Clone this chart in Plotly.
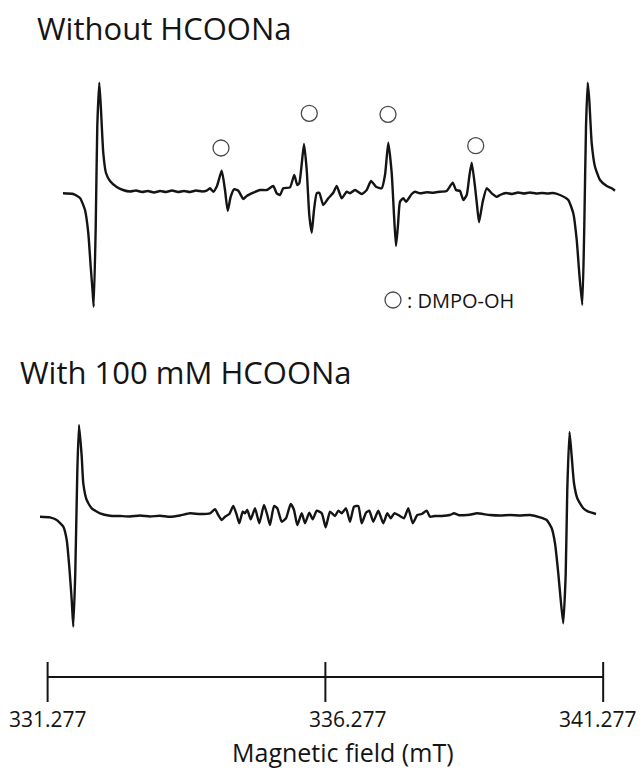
import plotly.graph_objects as go

# ---- Spectrum without formate: magnetic field (mT) and signal (a.u.) ----
field_without = [
    331.554, 331.739, 331.860, 331.950, 332.009, 332.053, 332.089, 332.107, 332.143, 332.171,
    332.207, 332.238, 332.279, 332.328, 332.400, 332.521, 332.634, 332.760, 332.868, 332.976,
    333.084, 333.192, 333.300, 333.408, 333.516, 333.624, 333.732, 333.840, 333.948, 334.056,
    334.141, 334.200, 334.259, 334.326, 334.411, 334.470, 334.519, 334.573, 334.632, 334.709,
    334.799, 334.861, 334.979, 335.100, 335.221, 335.339, 335.401, 335.460, 335.519, 335.640,
    335.717, 335.771, 335.807, 335.892, 335.941, 335.987, 336.031, 336.072, 336.121, 336.167,
    336.239, 336.329, 336.419, 336.481, 336.571, 336.661, 336.720, 336.810, 336.931, 337.021,
    337.098, 337.188, 337.291, 337.350, 337.409, 337.471, 337.512, 337.548, 337.584, 337.620,
    337.679, 337.728, 337.831, 337.890, 337.980, 338.101, 338.219, 338.340, 338.461, 338.569,
    338.628, 338.700, 338.759, 338.821, 338.871, 338.911, 338.970, 339.006, 339.042, 339.109,
    339.181, 339.271, 339.361, 339.420, 339.528, 339.636, 339.744, 339.852, 339.960, 340.068,
    340.176, 340.284, 340.374, 340.500, 340.649, 340.739, 340.801, 340.847, 340.901, 340.937,
    340.968, 340.999, 341.027, 341.071, 341.130, 341.220, 341.341, 341.431, 341.490,
]
signal_without = [
    -2.3, -3, -7, -19, -42, -76, -102, -115.7, -35.7, 64.3,
    108.3, 81, 38, 18, 10, 4, 1, -0.5, 0.5, -1,
    0, -1.5, 0, -1, 0.5, -1, 0, -1, 0.5, -0.5,
    0.3, 2.7, -0.7, 5, 20.3, 1, -19.7, -5.7, 1.7, 0.3,
    -8, -5, -1.7, 1, 1, 5, -2.3, -4, 2.7, 3.7,
    16, 6, 7.7, 47, 21, -24, -41.7, -19, -2.3, -1.7,
    -14, -7.3, -1.7, 5, -7.3, -0.7, -2.3, 1, -3, 1,
    10, 4.3, 2.7, 16, 48.3, 17.7, -24, -55, -34, -10.7,
    -7.3, -10.7, -3, -0.7, -2.3, -1.3, -1.7, -0.7, 0, 8.3,
    1, 0, -9, -4, 16, 28.3, 4.3, -14, -31.3, -10.7,
    2.7, -2.3, -5.7, -4, -2, -3, -1.5, -2.5, -1.5, -2.5,
    -2, -2.5, -2, -4, -9, -22.3, -49, -82.3, -114, -35.7,
    64.3, 108.3, 91, 47.7, 24.3, 11, 5, 2.7, 0.3,
]

# ---- Spectrum with 100 mM HCOONa ----
field_with = [
    331.140, 331.320, 331.441, 331.559, 331.621, 331.667, 331.711, 331.739, 331.775, 331.811,
    331.842, 331.891, 331.919, 331.981, 332.071, 332.220, 332.400, 332.580, 332.760, 332.940,
    333.120, 333.300, 333.480, 333.660, 333.840, 334.020, 334.200, 334.290, 334.349, 334.411,
    334.470, 334.547, 334.619, 334.681, 334.727, 334.789, 334.830, 334.871, 334.933, 335.010,
    335.087, 335.172, 335.231, 335.280, 335.352, 335.411, 335.491, 335.568, 335.653, 335.712,
    335.771, 335.851, 335.910, 335.987, 336.049, 336.121, 336.211, 336.283, 336.360, 336.450,
    336.509, 336.571, 336.648, 336.720, 336.792, 336.869, 336.931, 337.008, 337.067, 337.139,
    337.229, 337.319, 337.391, 337.453, 337.517, 337.589, 337.692, 337.769, 337.849, 337.931,
    338.011, 338.101, 338.160, 338.250, 338.371, 338.520, 338.592, 338.669, 338.821, 338.939,
    339.001, 339.240, 339.420, 339.600, 339.780, 339.960, 340.140, 340.261, 340.351, 340.410,
    340.469, 340.513, 340.559, 340.603, 340.631, 340.671, 340.711, 340.752, 340.811, 340.919,
    341.009, 341.071, 341.148,
]
signal_with = [
    -0.7, -1.3, -4, -10.7, -24, -50.7, -84, -110.7, -57, 43,
    91, 59.3, 32.7, 16, 7.7, 2.7, 0.3, 0, -0.5, 0.5,
    -0.5, 0.3, -0.8, 0.5, 2.7, 2, 2.7, 6.7, 1, -4,
    -0.7, 2, 10, 1, -7.3, 4.3, 2.7, 6, -3.3, 7.7,
    -7.3, 11, 1, -9, 10, 7.7, -5.7, -2.3, 12, 6,
    -9, 2.7, -7.3, 3.3, -3.3, 5.3, 2.7, -11.3, 4.3, 0,
    5.3, 2.7, 7.7, -5.7, 9.3, 10, -7.3, 3.3, 5.3, -5.7,
    5.3, -7.3, 2.7, -2.3, 2.7, 1, -2.3, 7.7, -7.3, 1,
    2, 5.3, -0.7, 0, 0, 1, 2.7, 1, 1, 2,
    2.7, 1, 0.5, 1, 0.5, 1, -1.3, -4, -12.3, -27.3,
    -57.3, -84, -107.3, -57.3, 26, 84, 59.3, 32.7, 17.7, 7.7,
    4.3, 3.3, 2,
]

# ---- DMPO-OH quartet markers (field, height above the trace) ----
dmpo_field = [334.398, 335.987, 337.404, 338.983]
dmpo_height = [43, 77.7, 76.7, 45.3]

# ---- Field scale bar ----
scale_ticks = [331.277, 336.277, 341.277]
scale_labels = ["331.277", "336.277", "341.277"]

FONT = "Open Sans, Noto Sans, sans-serif"
INK = "#141414"
W, H = 644, 768

trace_line = dict(color=INK, width=2.4, shape="spline", smoothing=0.5)
circle_marker = dict(symbol="circle-open", size=16, color="#4a4a4a", line=dict(width=1.3))

fig = go.Figure()

fig.add_trace(go.Scatter(
    x=field_without, y=signal_without, mode="lines", line=trace_line,
    xaxis="x", yaxis="y", hoverinfo="skip",
))
fig.add_trace(go.Scatter(
    x=dmpo_field, y=dmpo_height, mode="markers", marker=circle_marker,
    xaxis="x", yaxis="y", hoverinfo="skip",
))
fig.add_trace(go.Scatter(
    x=field_with, y=signal_with, mode="lines", line=trace_line,
    xaxis="x", yaxis="y2", hoverinfo="skip",
))

# scale bar: horizontal line plus crossing ticks
bar_x = [scale_ticks[0], scale_ticks[-1], None]
bar_y = [0, 0, None]
for t in scale_ticks:
    bar_x += [t, t, None]
    bar_y += [15, -25, None]
fig.add_trace(go.Scatter(
    x=bar_x, y=bar_y, mode="lines", line=dict(color=INK, width=2),
    xaxis="x", yaxis="y3", hoverinfo="skip",
))

# legend entry for the circle symbol
legend_field = 337.494
fig.add_trace(go.Scatter(
    x=[legend_field], y=[-109], mode="markers", marker=circle_marker,
    xaxis="x", yaxis="y", hoverinfo="skip",
))

annotations = [
    dict(text="Without HCOONa", x=35 / W, y=1 - 28 / H, xref="paper", yref="paper",
         xanchor="left", yanchor="middle", showarrow=False,
         font=dict(family=FONT, size=31, color=INK)),
    dict(text="With 100 mM HCOONa", x=18 / W, y=1 - 372 / H, xref="paper", yref="paper",
         xanchor="left", yanchor="middle", showarrow=False,
         font=dict(family=FONT, size=31, color=INK)),
    dict(text=": DMPO-OH", x=legend_field + 0.22, y=-109, xref="x", yref="y",
         xanchor="left", yanchor="middle", showarrow=False,
         font=dict(family=FONT, size=20, color=INK)),
    dict(text="Magnetic field (mT)", x=336.277, y=-75, xref="x", yref="y3",
         xanchor="center", yanchor="middle", showarrow=False, xshift=18,
         font=dict(family=FONT, size=25, color=INK)),
]
for t, lab, dx in zip(scale_ticks, scale_labels, [0, 23, -5]):
    annotations.append(dict(
        text=lab, x=t, y=-42, xref="x", yref="y3", xanchor="center", yanchor="middle",
        showarrow=False, xshift=dx, font=dict(family=FONT, size=21, color=INK),
    ))

hidden = dict(visible=False, fixedrange=True)
fig.update_layout(
    width=W, height=H, margin=dict(l=0, r=0, t=0, b=0),
    paper_bgcolor="white", plot_bgcolor="white", showlegend=False,
    xaxis=dict(range=[330.42, 330.42 + 0.018 * W], domain=[0, 1], **hidden),
    yaxis=dict(range=[-139, 131], domain=[1 - 330 / H, 1 - 60 / H], **hidden),
    yaxis2=dict(range=[-129, 116], domain=[1 - 645 / H, 1 - 400 / H], **hidden),
    yaxis3=dict(range=[-91, 32], domain=[0, 1 - 645 / H], **hidden),
    annotations=annotations,
)

fig.write_html("out.html")
